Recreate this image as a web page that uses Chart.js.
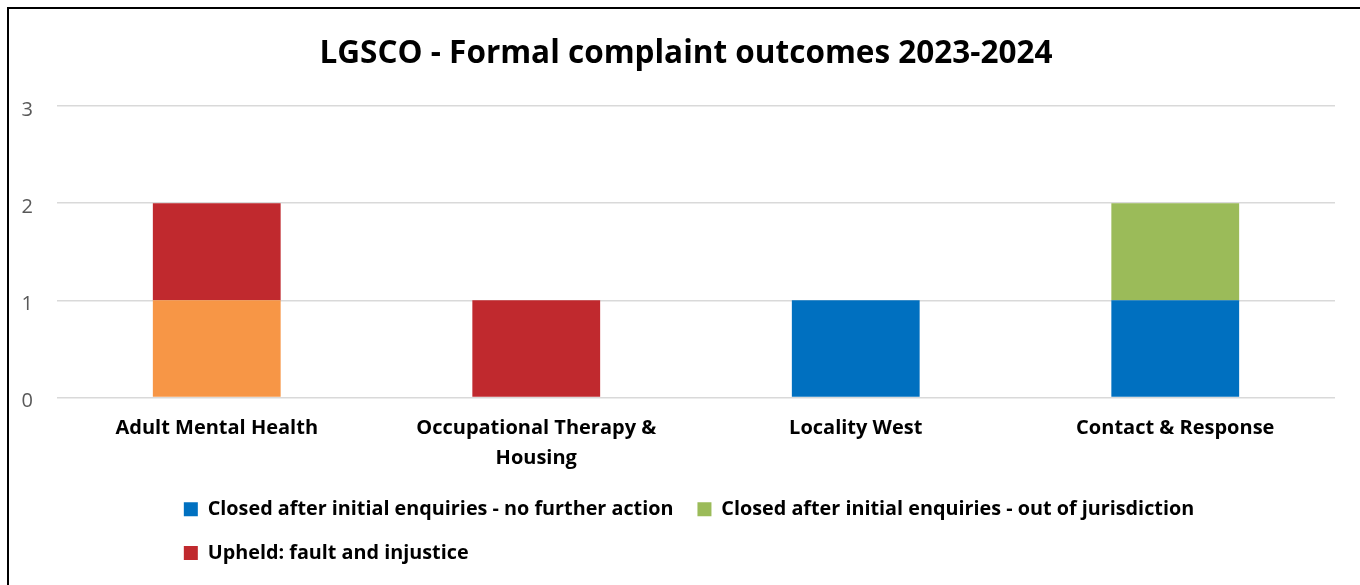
<!DOCTYPE html>
<html>
<head>
<meta charset="utf-8">
<script src="https://cdn.jsdelivr.net/npm/chart.js@4.4.1/dist/chart.umd.min.js"></script>
<style>
	html, body { margin: 0; padding: 0; background: #fff; }
	#wrap { position: relative; width: 1360px; height: 585px; overflow: hidden; }
	#frame { position: absolute; left: 7px; top: 7px; width: 1400px; height: 640px; border-left: 2px solid #000; border-top: 2px solid #000; }
	#chart { position: absolute; left: 0; top: 0; }
</style>
</head>
<body>
<div id="wrap">
	<div id="frame"></div>
	<canvas id="chart" width="1360" height="585"></canvas>
</div>
<script>
const titleText = "LGSCO - Formal complaint outcomes 2023-2024";
const categories = [
	"Adult Mental Health",
	["Occupational Therapy &", "Housing"],
	"Locality West",
	"Contact & Response"
];
const noFurtherAction = [0, 0, 1, 1];
const outOfJurisdiction = [0, 0, 0, 1];
const notInLegend = [1, 0, 0, 0];
const upheldFault = [1, 1, 0, 0];
const yTicks = [0, 1, 2, 3];

const FONT = "'Open Sans', 'Noto Sans', sans-serif";

// title centred on the frame, first legend row centred and later rows
// starting where it starts (the way the source chart wraps its legend)
const placeBlocks = {
	id: "placeBlocks",
	afterLayout(chart) {
		const t = chart.titleBlock;
		if (t) { t.left = 37; t.right = 1335; }
		const lg = chart.legend;
		if (!lg || !lg.lineWidths) return;
		const pad = lg.options.labels.padding;
		const rowW = lg.lineWidths[0] - pad;
		lg.left = 689 - rowW / 2 - pad;
	}
};

new Chart(document.getElementById("chart"), {
	type: "bar",
	data: {
		labels: categories,
		datasets: [
			{ label: "Closed after initial enquiries - no further action", data: noFurtherAction, backgroundColor: "#0070C0" },
			{ label: "Closed after initial enquiries - out of jurisdiction", data: outOfJurisdiction, backgroundColor: "#9BBB59" },
			{ label: "Not upheld", data: notInLegend, backgroundColor: "#F79646" },
			{ label: "Upheld: fault and injustice", data: upheldFault, backgroundColor: "#C0292E" }
		]
	},
	options: {
		responsive: false,
		animation: false,
		layout: { padding: { left: 8, right: 25, top: 10, bottom: 12 } },
		datasets: { bar: { barPercentage: 0.4, categoryPercentage: 1, borderWidth: 0 } },
		plugins: {
			title: {
				display: true,
				text: titleText,
				color: "#000",
				font: { family: FONT, size: 31.5, weight: "bold" },
				padding: { top: 25.6, bottom: 32.6 }
			},
			legend: {
				position: "bottom",
				align: "start",
				labels: {
					filter: (item) => item.text !== "Not upheld",
					color: "#000",
					font: { family: FONT, size: 19.8, weight: "bold" },
					boxWidth: 14,
					boxHeight: 14,
					padding: 24
				}
			},
			tooltip: { enabled: false }
		},
		scales: {
			x: {
				stacked: true,
				afterFit: (s) => { s.height = 78; },
				grid: { display: false, drawTicks: false },
				border: { display: false },
				ticks: {
					color: "#000",
					font: { family: FONT, size: 20, weight: "bold", lineHeight: 1.5 },
					padding: 16,
					maxRotation: 0,
					autoSkip: false
				}
			},
			y: {
				stacked: true,
				min: 0,
				max: 3,
				afterFit: (s) => { s.width = 49; },
				afterBuildTicks: (s) => { s.ticks = yTicks.map((v) => ({ value: v })); },
				grid: { color: "#D9D9D9", lineWidth: 1.5, drawTicks: false },
				border: { display: false },
				ticks: {
					color: "#595959",
					font: { family: FONT, size: 20 },
					padding: 24,
					labelOffset: 4
				}
			}
		}
	},
	plugins: [placeBlocks]
});
</script>
</body>
</html>
